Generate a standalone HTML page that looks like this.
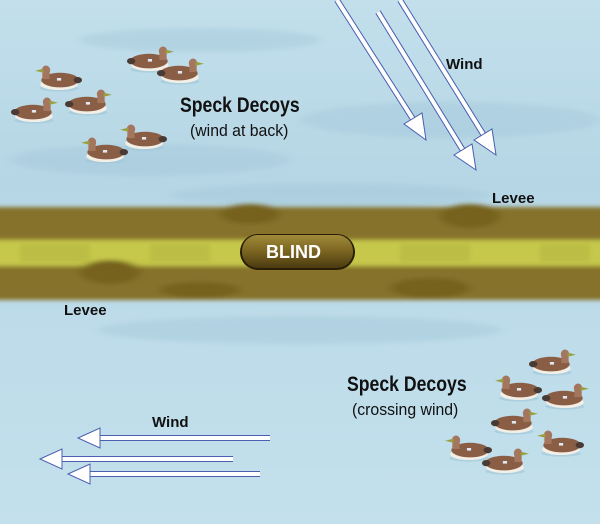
<!DOCTYPE html>
<html><head><meta charset="utf-8"><style>
html,body{margin:0;padding:0}
body{width:600px;height:524px;overflow:hidden;background:#bcdbe9;font-family:"Liberation Sans",sans-serif;position:relative}
.t{position:absolute;white-space:nowrap;color:#111;transform-origin:0 0}
.h{font-weight:bold;font-size:21px;transform:scaleX(0.84)}
.s{font-size:17px;transform:scaleX(0.93)}
.b{font-weight:bold;font-size:15px}
</style></head><body>
<svg width="600" height="524" style="position:absolute;left:0;top:0">
<defs>
<linearGradient id="bg" x1="0" y1="0" x2="0" y2="1">
<stop offset="0" stop-color="#c2dfeb"/><stop offset="0.35" stop-color="#b6d6e5"/><stop offset="0.6" stop-color="#bddbe9"/><stop offset="1" stop-color="#c3e0ec"/></linearGradient>
<filter id="bl" x="-10%" y="-50%" width="120%" height="200%"><feGaussianBlur stdDeviation="5 2"/></filter>
<filter id="bl2"><feGaussianBlur stdDeviation="2"/></filter>
<linearGradient id="bt" x1="0" y1="0" x2="0" y2="1"><stop offset="0" stop-color="#a08a3a"/><stop offset="0.5" stop-color="#7a6420"/><stop offset="1" stop-color="#4a3a10"/></linearGradient>
<symbol id="d" viewBox="0 0 46 26">
<ellipse cx="22" cy="23" rx="19" ry="3" fill="#9fc6d8" opacity="0.6"/>
<ellipse cx="22" cy="19" rx="18" ry="5.5" fill="#f3efe6"/>
<ellipse cx="21" cy="15" rx="18" ry="7" fill="#8a5e45"/>
<ellipse cx="4" cy="15" rx="4" ry="3" fill="#4a3a34"/>
<rect x="31" y="6" width="7" height="8" fill="#a4765e"/>
<ellipse cx="34.5" cy="5.5" rx="4" ry="4.5" fill="#a4765e"/>
<path d="M37 4 L45 6 L37 8Z" fill="#9aa040"/>
<rect x="20" y="13" width="4" height="2.5" fill="#dfe8f3"/>
</symbol>
</defs>
<rect width="600" height="524" fill="url(#bg)"/>
<g filter="url(#bl)" opacity="0.35" fill="#9cc3d6">
<ellipse cx="150" cy="160" rx="140" ry="16"/><ellipse cx="450" cy="120" rx="150" ry="18"/><ellipse cx="330" cy="195" rx="160" ry="12"/><ellipse cx="300" cy="330" rx="200" ry="14"/><ellipse cx="200" cy="40" rx="120" ry="12"/>
</g>
<g filter="url(#bl)">
<rect x="-20" y="207" width="640" height="93" fill="#86722a"/>
<rect x="-20" y="240" width="640" height="26" fill="#c6c84c"/>
<ellipse cx="110" cy="272" rx="30" ry="12" fill="#76621e"/>
<ellipse cx="250" cy="214" rx="30" ry="10" fill="#76621e"/>
<ellipse cx="470" cy="216" rx="30" ry="12" fill="#76621e"/>
<ellipse cx="430" cy="288" rx="40" ry="10" fill="#76621e"/>
<ellipse cx="200" cy="290" rx="40" ry="8" fill="#76621e"/>
</g>
<g opacity="0.35" fill="#a9ab3a" filter="url(#bl2)">
<rect x="20" y="244" width="70" height="18"/><rect x="150" y="244" width="60" height="18"/><rect x="400" y="244" width="70" height="18"/><rect x="540" y="244" width="50" height="18"/>
</g>
<rect x="240" y="234" width="115" height="36" rx="18" fill="#2a1e05"/>
<rect x="242" y="235" width="111" height="33" rx="16" fill="url(#bt)"/>
<use href="#d" x="34" y="64" width="48" height="28" transform="translate(116,0) scale(-1,1)"/>
<use href="#d" x="127" y="45" width="48" height="28"/>
<use href="#d" x="157" y="57" width="48" height="28"/>
<use href="#d" x="11" y="96" width="48" height="28"/>
<use href="#d" x="65" y="88" width="48" height="28"/>
<use href="#d" x="80" y="136" width="48" height="28" transform="translate(208,0) scale(-1,1)"/>
<use href="#d" x="119" y="123" width="48" height="28" transform="translate(286,0) scale(-1,1)"/>
<use href="#d" x="529" y="348" width="48" height="28"/>
<use href="#d" x="494" y="374" width="48" height="28" transform="translate(1036,0) scale(-1,1)"/>
<use href="#d" x="542" y="382" width="48" height="28"/>
<use href="#d" x="491" y="407" width="48" height="28"/>
<use href="#d" x="536" y="429" width="48" height="28" transform="translate(1120,0) scale(-1,1)"/>
<use href="#d" x="444" y="434" width="48" height="28" transform="translate(936,0) scale(-1,1)"/>
<use href="#d" x="482" y="447" width="48" height="28"/>
<g stroke="#4a5fb0" stroke-width="1" fill="#fff">
<line x1="337" y1="0" x2="418" y2="127" stroke-width="6"/><line x1="337" y1="0" x2="418" y2="127" stroke="#fff" stroke-width="4"/><polygon points="426,140 404,124 422,113"/>
<line x1="378" y1="12" x2="467" y2="157" stroke-width="6"/><line x1="378" y1="12" x2="467" y2="157" stroke="#fff" stroke-width="4"/><polygon points="476,170 454,155 472,144"/>
<line x1="400" y1="0" x2="488" y2="142" stroke-width="6"/><line x1="400" y1="0" x2="488" y2="142" stroke="#fff" stroke-width="4"/><polygon points="496,155 474,140 492,129"/>
<line x1="270" y1="438" x2="92" y2="438" stroke-width="6"/><line x1="270" y1="438" x2="92" y2="438" stroke="#fff" stroke-width="4"/><polygon points="78,438 100,428 100,448"/>
<line x1="233" y1="459" x2="54" y2="459" stroke-width="6"/><line x1="233" y1="459" x2="54" y2="459" stroke="#fff" stroke-width="4"/><polygon points="40,459 62,449 62,469"/>
<line x1="260" y1="474" x2="82" y2="474" stroke-width="6"/><line x1="260" y1="474" x2="82" y2="474" stroke="#fff" stroke-width="4"/><polygon points="68,474 90,464 90,484"/>
</g>
</svg>
<div class="t" style="left:266px;top:242px;color:#fff;font-weight:bold;font-size:18px">BLIND</div>
<div class="t h" style="left:180px;top:94px">Speck Decoys</div>
<div class="t s" style="left:190px;top:121px">(wind at back)</div>
<div class="t h" style="left:347px;top:373px">Speck Decoys</div>
<div class="t s" style="left:352px;top:400px">(crossing wind)</div>
<div class="t b" style="left:446px;top:56px">Wind</div>
<div class="t b" style="left:152px;top:414px">Wind</div>
<div class="t b" style="left:492px;top:190px">Levee</div>
<div class="t b" style="left:64px;top:302px">Levee</div>
</body></html>
